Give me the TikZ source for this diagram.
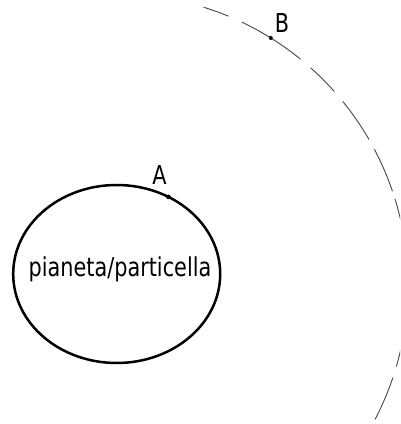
\documentclass[tikz,border=0pt]{standalone}
\usepackage{fontspec}
\usepackage{tikz}
\usetikzlibrary{calc, positioning}
\newfontfamily\disegnofont[FakeStretch=0.8]{DejaVu Sans}

\tikzset{
  etichetta/.style={font=\disegnofont\fontsize{26}{30}\selectfont, inner sep=0pt},
  puntino/.style={fill=black},
  orbita/.style={gray!55!black, line width=0.9pt,
    dash pattern=on 26.4pt off 14.7pt on 69.6pt off 13.2pt on 33.5pt off 13.2pt
                 on 46.2pt off 11.2pt on 45.7pt off 8.1pt on 40pt off 12pt
                 on 40pt off 12pt on 66pt off 11.7pt on 60pt off 20pt}
}

\begin{document}
\begin{tikzpicture}[x=1pt, y=1pt]
        % frame of the picture
        \clip (0,0) rectangle (400,424);

        % centres of the planet and of the orbit
        \coordinate (centro) at (116.7,150);
        \coordinate (centroorbita) at (117,139);

        % planet / particle (ellipse)
        \draw[black, line width=2.5pt] (centro) ellipse (103.5 and 89);
        \node[etichetta, anchor=base] (testo) at (120,147) {pianeta/particella};

        % point A on the planet
        \coordinate (A) at ($(centro)+(60:103.5 and 89)$);
        \fill[puntino] (A) circle (2.3);
        \node[etichetta] (labA) at (159.5,248.5) {A};

        % dashed orbit with point B
        \draw[orbita] ($(centroorbita)+(72.7:291)$) arc[start angle=72.7, end angle=-27.5, radius=291];
        \coordinate (B) at ($(centroorbita)+(58.1:291)$);
        \fill[puntino] (B) circle (2);
        \node[etichetta] (labB) at (282,400.5) {B};
\end{tikzpicture}
\end{document}
